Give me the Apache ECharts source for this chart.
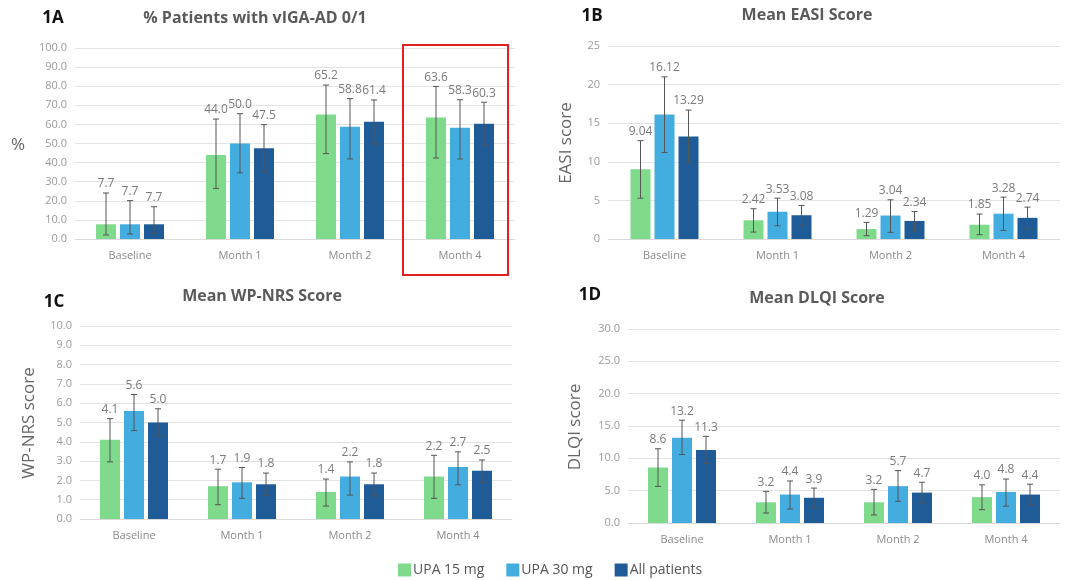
<!DOCTYPE html>
<html>
<head>
<meta charset="utf-8">
<script src="https://cdn.jsdelivr.net/npm/echarts@6/dist/echarts.min.js"></script>
<style>html,body{margin:0;padding:0;background:#fff}#c{width:1065px;height:580px}</style>
</head>
<body>
<div id="c"></div>
<script>
const categories = ['Baseline', 'Month 1', 'Month 2', 'Month 4'];
const seriesNames = ['UPA 15 mg', 'UPA 30 mg', 'All patients'];

// 1A % Patients with vIGA-AD 0/1
const a_upa15 = [7.7, 44.0, 65.2, 63.6];
const a_upa15_lo = [2.1, 26.4, 44.7, 42.4];
const a_upa15_hi = [24.1, 62.8, 80.6, 79.9];
const a_upa30 = [7.7, 50.0, 58.8, 58.3];
const a_upa30_lo = [2.6, 34.6, 41.9, 41.9];
const a_upa30_hi = [20.1, 65.6, 73.5, 72.9];
const a_all = [7.7, 47.5, 61.4, 60.3];
const a_all_lo = [3.2, 35.2, 49.7, 48.8];
const a_all_hi = [16.9, 59.9, 72.8, 71.6];

// 1B Mean EASI Score
const b_upa15 = [9.04, 2.42, 1.29, 1.85];
const b_upa15_lo = [5.29, 0.90, 0.43, 0.56];
const b_upa15_hi = [12.74, 3.92, 2.15, 3.23];
const b_upa30 = [16.12, 3.53, 3.04, 3.28];
const b_upa30_lo = [11.2, 1.72, 0.86, 1.12];
const b_upa30_hi = [21.0, 5.29, 5.08, 5.42];
const b_all = [13.29, 3.08, 2.34, 2.74];
const b_all_lo = [9.9, 1.8, 1.1, 1.35];
const b_all_hi = [16.7, 4.35, 3.57, 4.13];

// 1C Mean WP-NRS Score
const c_upa15 = [4.1, 1.7, 1.4, 2.2];
const c_upa15_lo = [2.96, 0.74, 0.67, 1.07];
const c_upa15_hi = [5.2, 2.58, 2.07, 3.3];
const c_upa30 = [5.6, 1.9, 2.2, 2.7];
const c_upa30_lo = [4.58, 1.07, 1.24, 1.77];
const c_upa30_hi = [6.45, 2.67, 2.96, 3.48];
const c_all = [5.0, 1.8, 1.8, 2.5];
const c_all_lo = [4.3, 1.22, 1.2, 1.9];
const c_all_hi = [5.71, 2.38, 2.38, 3.06];

// 1D Mean DLQI Score
const d_upa15 = [8.6, 3.2, 3.2, 4.0];
const d_upa15_lo = [5.66, 1.54, 1.24, 2.06];
const d_upa15_hi = [11.48, 4.9, 5.2, 5.9];
const d_upa30 = [13.2, 4.4, 5.7, 4.8];
const d_upa30_lo = [10.6, 2.16, 3.35, 2.6];
const d_upa30_hi = [15.9, 6.5, 8.1, 6.8];
const d_all = [11.3, 3.9, 4.7, 4.4];
const d_all_lo = [9.2, 2.4, 3.1, 2.8];
const d_all_hi = [13.4, 5.4, 6.3, 6.0];

const colors = ['#7fda8b', '#44ade0', '#1f5b97'];
const FONT = '"Open Sans", "Noto Sans", sans-serif';

const panels = [
  {vals:[a_upa15,a_upa30,a_all], lo:[a_upa15_lo,a_upa30_lo,a_all_lo], hi:[a_upa15_hi,a_upa30_hi,a_all_hi], dec:1, min:0, max:100, interval:10, tickDec:1,
   grid:{left:75, right:550, top:48, bottom:341}},
  {vals:[b_upa15,b_upa30,b_all], lo:[b_upa15_lo,b_upa30_lo,b_all_lo], hi:[b_upa15_hi,b_upa30_hi,b_all_hi], dec:2, min:0, max:25, interval:5, tickDec:0,
   grid:{left:608, right:5, top:46, bottom:341}},
  {vals:[c_upa15,c_upa30,c_all], lo:[c_upa15_lo,c_upa30_lo,c_all_lo], hi:[c_upa15_hi,c_upa30_hi,c_all_hi], dec:1, min:0, max:10, interval:1, tickDec:1,
   grid:{left:80, right:553, top:326, bottom:61}},
  {vals:[d_upa15,d_upa30,d_all], lo:[d_upa15_lo,d_upa30_lo,d_all_lo], hi:[d_upa15_hi,d_upa30_hi,d_all_hi], dec:1, min:0, max:30, interval:5, tickDec:1,
   grid:{left:628, right:5, top:329, bottom:57}}
];

const BAR_W = 20, GAP = 4;
const grids = [], xAxes = [], yAxes = [], series = [];
panels.forEach((p, pi) => {
  grids.push(p.grid);
  xAxes.push({type:'category', gridIndex:pi, data:categories,
    axisLine:{lineStyle:{color:'#d9d9d9'}}, axisTick:{show:false},
    axisLabel:{color:'#8a8a8a', fontSize:11, fontFamily:FONT, margin:11}});
  yAxes.push({type:'value', gridIndex:pi, min:p.min, max:p.max, interval:p.interval,
    axisLine:{show:false}, axisTick:{show:false},
    splitLine:{lineStyle:{color:'#e3e3e3'}},
    axisLabel:{color:'#9a9a9a', fontSize:11, fontFamily:FONT, margin:8,
      formatter:(v)=>v.toFixed(p.tickDec)}});
  for (let s = 0; s < 3; s++) {
    series.push({type:'bar', name:seriesNames[s], xAxisIndex:pi, yAxisIndex:pi,
      data:p.vals[s], barWidth:BAR_W, barGap:(GAP/BAR_W*100)+'%',
      itemStyle:{color:colors[s]}, z:2});
  }
  for (let s = 0; s < 3; s++) {
    const off = (s - 1) * (BAR_W + GAP);
    series.push({type:'custom', xAxisIndex:pi, yAxisIndex:pi, z:5, silent:true,
      data: categories.map((c, i) => [i, p.vals[s][i], p.lo[s][i], p.hi[s][i]]),
      encode:{x:0, y:[2,3]},
      renderItem:(params, api) => {
        const i = api.value(0);
        const top = api.coord([i, api.value(3)]);
        const bot = api.coord([i, api.value(2)]);
        const x = top[0] + off;
        const st = {stroke:'#555', lineWidth:1};
        return {type:'group', children:[
          {type:'line', shape:{x1:x, y1:top[1], x2:x, y2:bot[1]}, style:st},
          {type:'line', shape:{x1:x-3, y1:top[1], x2:x+3, y2:top[1]}, style:st},
          {type:'line', shape:{x1:x-3, y1:bot[1], x2:x+3, y2:bot[1]}, style:st},
          {type:'text', x:x, y:top[1]-3, style:{text:api.value(1).toFixed(p.dec),
            textAlign:'center', textVerticalAlign:'bottom', fill:'#7a7a7a',
            font:'12px ' + FONT}}
        ]};
      }});
  }
});

function txt(x, y, text, size, weight, color, rot) {
  return {type:'text', x:x, y:y, rotation:rot||0, z:10,
    style:{text:text, font:(weight||'normal') + ' ' + size + 'px ' + FONT, fill:color,
      textAlign:'center', textVerticalAlign:'middle'}};
}

const graphics = [
  txt(53, 18, '1A', 17, 'bold', '#111'),
  txt(255, 18, '% Patients with vIGA-AD 0/1', 16, 'bold', '#5a5a5a'),
  txt(18, 145, '%', 17, 'normal', '#666'),
  txt(592, 16, '1B', 17, 'bold', '#111'),
  txt(807, 15, 'Mean EASI Score', 16, 'bold', '#5a5a5a'),
  txt(566, 143, 'EASI score', 17, 'normal', '#666', Math.PI/2),
  txt(54, 302, '1C', 17, 'bold', '#111'),
  txt(262, 296, 'Mean WP-NRS Score', 16, 'bold', '#5a5a5a'),
  txt(29, 423, 'WP-NRS score', 17, 'normal', '#666', Math.PI/2),
  txt(590, 295, '1D', 17, 'bold', '#111'),
  txt(817, 298, 'Mean DLQI Score', 16, 'bold', '#5a5a5a'),
  txt(575, 427, 'DLQI score', 17, 'normal', '#666', Math.PI/2),
  {type:'rect', z:10, shape:{x:403, y:45, width:105, height:230},
   style:{fill:'none', stroke:'#e0201f', lineWidth:2}}
];

const chart = echarts.init(document.getElementById('c'));
chart.setOption({
  animation:false,
  backgroundColor:'#fff',
  grid:grids, xAxis:xAxes, yAxis:yAxes, series:series,
  legend:{data:seriesNames, left:393, top:560, padding:[2,5,2,5], itemWidth:13, itemHeight:13, itemGap:22,
    icon:'rect', textStyle:{color:'#555', fontSize:14, lineHeight:16, fontFamily:FONT, padding:[0,0,0,-3]}},
  graphic:graphics
});
</script>
</body>
</html>
